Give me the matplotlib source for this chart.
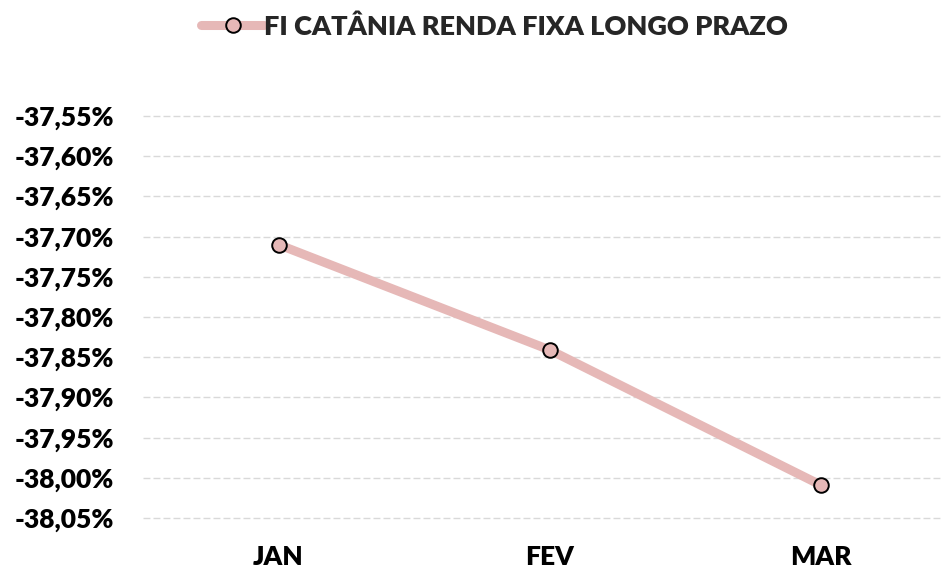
import matplotlib.pyplot as plt
from matplotlib.ticker import FuncFormatter

meses = ["JAN", "FEV", "MAR"]
rentab = [-37.710, -37.841, -38.009]
yticks = [-37.55, -37.60, -37.65, -37.70, -37.75, -37.80, -37.85, -37.90, -37.95, -38.00, -38.05]
nome = "FI CATÂNIA RENDA FIXA LONGO PRAZO"

plt.rcParams["font.family"] = ["Lato", "DejaVu Sans"]
plt.rcParams["font.weight"] = "heavy"

fig = plt.figure(figsize=(9.42, 5.68), dpi=100)
ax = fig.add_axes([0.1518, 0.074, 0.8482, 0.736])

x = range(len(meses))
ax.plot(x, rentab, color="#E6B8B7", lw=6.5, solid_capstyle="round",
        marker="o", ms=10.5, mfc="#E6B8B7", mec="black", mew=1.4, label=nome)

ax.set_xlim(-0.5, 2.448)
ax.set_ylim(-38.06, -37.54)
ax.set_yticks(yticks)
ax.yaxis.set_major_formatter(FuncFormatter(lambda v, p: f"{v:.2f}%".replace(".", ",")))
ax.set_xticks(list(x))
ax.set_xticklabels(meses)

# linhas de grade tracejadas
ax.grid(axis="y", color="#D9D9D9", ls=(0, (5, 2.2)), lw=1)
ax.set_axisbelow(True)
for s in ax.spines.values():
    s.set_visible(False)
ax.tick_params(length=0, labelsize=19, colors="black")
ax.tick_params(axis="y", pad=21)
ax.tick_params(axis="x", pad=14)
for t in ax.get_xticklabels() + ax.get_yticklabels():
    t.set_fontweight("heavy")

# legenda no topo
leg = fig.legend(loc="upper center", bbox_to_anchor=(0.525, 1.018), frameon=False,
                 handlelength=2.3, handletextpad=0.0,
                 prop={"size": 19.5, "weight": "heavy"})
for t in leg.get_texts():
    t.set_color("#262626")

fig.savefig("out.png", dpi=100)
